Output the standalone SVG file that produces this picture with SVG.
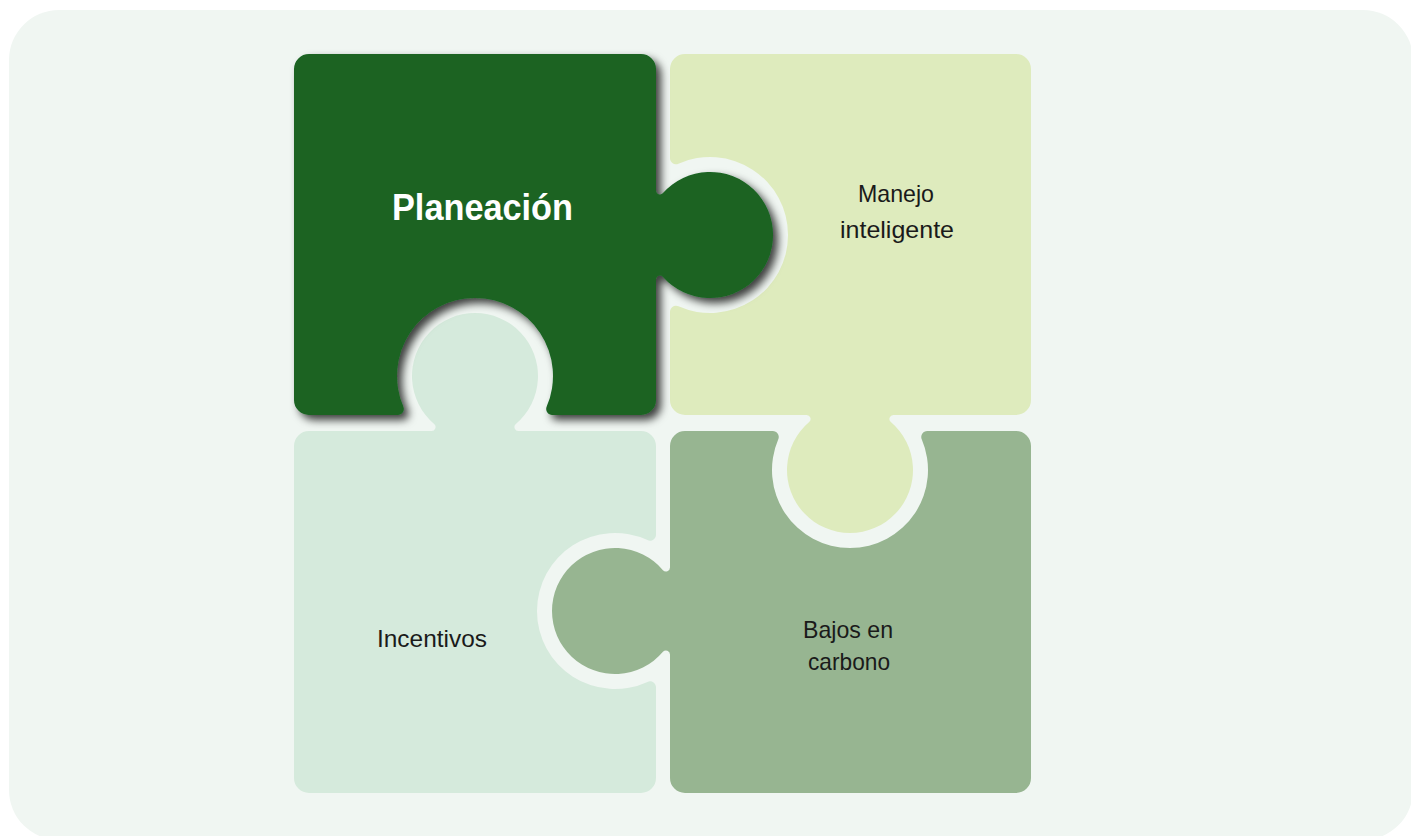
<svg xmlns="http://www.w3.org/2000/svg" width="1411" height="836" viewBox="0 0 1411 836">
  <defs>
    <filter id="shadow" x="-10%" y="-10%" width="130%" height="130%">
      <feDropShadow dx="5" dy="5" stdDeviation="4.5" flood-color="#000000" flood-opacity="0.75"/>
    </filter>
  </defs>
  <style>
    .lbl { font-family: "Liberation Sans", Arial, sans-serif; font-size: 24px; fill: #1a1a1a; text-anchor: middle; }
    .title { font-family: "Liberation Sans", Arial, sans-serif; font-size: 37px; font-weight: bold; fill: #ffffff; text-anchor: middle; }
  </style>
  <rect x="0" y="0" width="1411" height="836" fill="#ffffff"/>
  <rect x="9" y="10" width="1404" height="830" rx="50" ry="50" fill="#f0f6f2"/>

  <g id="manejo">
    <path fill="#deebbd" d="M 685,54 H 1016 A 15 15 0 0 1 1031,69 V 400 A 15 15 0 0 1 1016,415 H 893.45 A 4 4 0 0 0 890.86,422.04 A 63 63 0 1 1 809.14,422.04 A 4 4 0 0 0 806.55,415 H 685 A 15 15 0 0 1 670,400 V 311.81 A 6 6 0 0 1 678.43,306.32 A 78 78 0 1 0 678.43,163.68 A 6 6 0 0 1 670,158.19 V 69 A 15 15 0 0 1 685,54 Z"/>
    <text class="lbl" x="896" y="202" textLength="76" lengthAdjust="spacingAndGlyphs">Manejo</text>
    <text class="lbl" x="897" y="238" textLength="114" lengthAdjust="spacingAndGlyphs">inteligente</text>
  </g>

  <g id="incentivos">
    <path fill="#d5eadc" d="M 309,431 H 431.55 A 4 4 0 0 0 434.14,423.96 A 63 63 0 1 1 515.86,423.96 A 4 4 0 0 0 518.45,431 H 641 A 15 15 0 0 1 656,446 V 534.64 A 6 6 0 0 1 647.5,540.1 A 78 78 0 1 0 647.5,681.9 A 6 6 0 0 1 656,687.36 V 778 A 15 15 0 0 1 641,793 H 309 A 15 15 0 0 1 294,778 V 446 A 15 15 0 0 1 309,431 Z"/>
    <text class="lbl" x="432" y="647" textLength="110" lengthAdjust="spacingAndGlyphs">Incentivos</text>
  </g>

  <g id="bajos">
    <path fill="#97b591" d="M 685,431 H 772.75 A 6 6 0 0 1 778.27,439.36 A 78 78 0 1 0 921.73,439.36 A 6 6 0 0 1 927.25,431 H 1016 A 15 15 0 0 1 1031,446 V 778 A 15 15 0 0 1 1016,793 H 685 A 15 15 0 0 1 670,778 V 654.45 A 4 4 0 0 0 662.96,651.86 A 63 63 0 1 1 662.96,570.14 A 4 4 0 0 0 670,567.55 V 446 A 15 15 0 0 1 685,431 Z"/>
    <text class="lbl" x="848" y="638" textLength="90" lengthAdjust="spacingAndGlyphs">Bajos en</text>
    <text class="lbl" x="849" y="670" textLength="82" lengthAdjust="spacingAndGlyphs">carbono</text>
  </g>

  <g id="planeacion">
    <path fill="#1a6424" filter="url(#shadow)" d="M 309,54 H 641 A 15 15 0 0 1 656,69 V 190.4 A 4 4 0 0 0 663,193.1 A 63 63 0 1 1 663,276.9 A 4 4 0 0 0 656,279.6 V 400 A 15 15 0 0 1 641,415 H 552.25 A 6 6 0 0 1 546.7,406.6 A 78 78 0 1 0 403.3,406.6 A 6 6 0 0 1 397.75,415 H 309 A 15 15 0 0 1 294,400 V 69 A 15 15 0 0 1 309,54 Z"/>
    <text class="title" x="482.5" y="220" textLength="181" lengthAdjust="spacingAndGlyphs">Planeación</text>
  </g>

  <g id="connectors"></g>
</svg>
